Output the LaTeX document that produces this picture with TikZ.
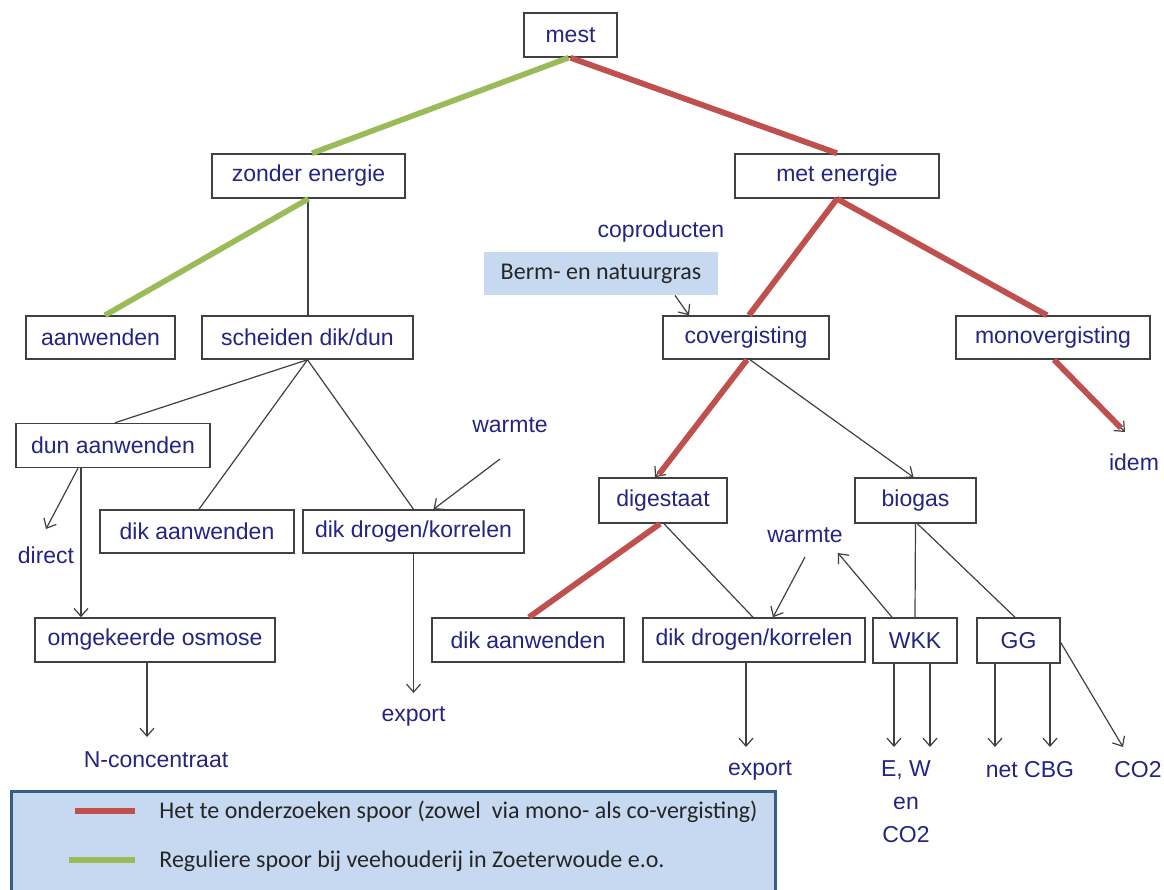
\documentclass[tikz,border=0pt]{standalone}
\usepackage{fontspec}
\setmainfont{Liberation Sans}
\newfontfamily\calfont{Carlito}
\usetikzlibrary{arrows.meta,calc}
\definecolor{navy}{RGB}{36,36,130}
\definecolor{boxline}{RGB}{64,64,64}
\definecolor{redpath}{RGB}{192,80,77}
\definecolor{greenpath}{RGB}{155,187,89}
\definecolor{legfill}{RGB}{198,217,240}
\definecolor{legline}{RGB}{56,93,138}
\definecolor{bermfill}{RGB}{198,217,241}
\definecolor{darktext}{RGB}{38,38,38}
\tikzset{
  box/.style={draw=boxline, line width=0.75pt, fill=white, minimum height=22pt, inner sep=0pt,
    text=navy, font=\fontsize{11.5}{13}\selectfont},
  lbl/.style={inner sep=0pt, text=navy, font=\fontsize{11.5}{13}\selectfont},
  thinline/.style={draw=boxline, line width=0.6pt},
  arr/.style={thinline, -{Straight Barb[length=4pt,width=7pt]}},
  redl/.style={draw=redpath, line width=2.9pt},
  greenl/.style={draw=greenpath, line width=2.8pt},
  legtext/.style={anchor=west, inner sep=0pt, text=darktext, font=\calfont\fontsize{12}{14}\selectfont},
}
\begin{document}
\begin{tikzpicture}[x=0.5pt,y=-0.5pt]
\useasboundingbox (0,0) rectangle (1164,890);
% boxes
\node[box, minimum width=46.5pt] (mest) at (570.5,35) {mest};
\node[box, minimum width=96.5pt] (zonder) at (308.5,176) {zonder energie};
\node[box, minimum width=102pt] (met) at (837,176) {met energie};
\node[box, minimum width=74.5pt, minimum height=21.5pt] (aanw) at (100.5,337.5) {aanwenden};
\node[box, minimum width=105.5pt, minimum height=21.5pt] (scheiden) at (307.5,337.5) {scheiden dik/dun};
\node[box, minimum width=83pt, minimum height=21.5pt] (cov) at (746,337.5) {covergisting};
\node[box, minimum width=97pt, minimum height=21.5pt] (mono) at (1053,337.5) {monovergisting};
\node[box, minimum width=97pt] (dun) at (113,445.5) {dun aanwenden};
\node[box, minimum width=97pt, minimum height=21.5pt] (dikL) at (197,531.5) {dik aanwenden};
\node[box, minimum width=110.5pt, minimum height=21.5pt] (drogenL) at (413.5,531.5) {dik drogen/korrelen};
\node[box, minimum width=120pt] (omg) at (155,640) {omgekeerde osmose};
\node[box, minimum width=64pt, minimum height=22.5pt] (dig) at (663,500.5) {digestaat};
\node[box, minimum width=60.5pt, minimum height=22.5pt] (biogas) at (915.5,500.5) {biogas};
\node[box, minimum width=96pt] (dikR) at (528,640) {dik aanwenden};
\node[box, minimum width=111pt] (drogenR) at (754,640) {dik drogen/korrelen};
\node[box, minimum width=42pt, minimum height=22.5pt] (wkk) at (915,640.5) {WKK};
\node[box, minimum width=41.5pt, minimum height=22.5pt] (gg) at (1018.5,640.5) {GG};
% berm box
\node[fill=bermfill, minimum width=117pt, minimum height=21.5pt, inner sep=0pt, text=darktext,
  font=\calfont\fontsize{12}{14}\selectfont] (berm) at (601,273.5) {Berm- en natuurgras};
% labels
\node[lbl] (copro) at (661,232) {coproducten};
\node[lbl] (warmteL) at (510,425) {warmte};
\node[lbl] (direct) at (46,555) {direct};
\node[lbl] (exportL) at (413.5,716) {export};
\node[lbl] (nconc) at (156,760) {N-concentraat};
\node[lbl] (idem) at (1134,462) {idem};
\node[lbl] (warmteR) at (805,535) {warmte};
\node[lbl] (exportR) at (760,770) {export};
\node[lbl, align=center, font=\fontsize{11.5}{16.5}\selectfont] (ew) at (906,802) {E, W\\en\\CO2};
\node[lbl] (netcbg) at (1030,770) {net CBG};
\node[lbl] (co2) at (1138,770) {CO2};
% thin connectors
\draw[thinline] ($(zonder.south)+(-0.5,0)$) -- ($(scheiden.north)+(0.5,0)$);
\draw[arr] ($(berm.south)+(74,0)$) -- ($(cov.north)+(-57,0)$);
\draw[thinline] (scheiden.south) -- ($(dun.north)+(2,0)$);
\draw[thinline] (scheiden.south) -- ($(dikL.north)+(2,0)$);
\draw[thinline] (scheiden.south) -- (drogenL.north);
\draw[arr] ($(warmteL)+(-10,34)$) -- ($(drogenL.north)+(20,0)$);
\draw[arr] ($(dun.south)+(-35,0)$) -- ($(direct)+(0,-26)$);
\draw[arr] ($(dun.south)+(-32,0)$) -- ($(omg.north)+(-74,0)$);
\draw[arr] (drogenL.south) -- ($(exportL)+(0,-23)$);
\draw[arr] ($(omg.south)+(-8,0)$) -- ($(nconc)+(-9,-23)$);
\draw[arr] ($(cov.south)+(1,0)$) -- ($(dig.north)+(-8,0)$);
\draw[arr] ($(cov.south)+(4,0)$) -- ($(biogas.north)+(-2,0)$);
\draw[arr] ($(mono.south)+(1,0)$) -- ($(idem)+(-9,-30)$);
\draw[thinline] ($(dig.south)+(1,0)$) -- ($(drogenR.north)+(-1,0)$);
\draw[arr] ($(warmteR)+(0,22)$) -- ($(drogenR.north)+(19,0)$);
\draw[arr] ($(wkk.north)+(-23,0)$) -- ($(warmteR)+(33,18)$);
\draw[thinline] (biogas.south) -- (wkk.north);
\draw[thinline] ($(biogas.south)+(2,0)$) -- ($(gg.north)+(-3.5,0)$);
\draw[arr] ($(drogenR.south)+(-8,0)$) -- ($(exportR)+(-14,-23)$);
\draw[arr] ($(wkk.south)+(-21,0)$) -- ($(ew)+(-12,-55)$);
\draw[arr] ($(wkk.south)+(15,0)$) -- ($(ew)+(24,-55)$);
\draw[arr] ($(gg.south)+(-23.5,0)$) -- ($(netcbg)+(-35,-23)$);
\draw[arr] ($(gg.south)+(31.5,0)$) -- ($(netcbg)+(20,-23)$);
\draw[arr] ($(gg.east)+(0,2)$) -- ($(co2)+(-15,-23)$);
% green path
\draw[greenl] ($(mest.south)+(-2,0)$) -- ($(zonder.north)+(3.5,0)$);
\draw[greenl] (zonder.south) -- ($(aanw.north)+(4.5,0)$);
% red path
\draw[redl] (mest.south) -- (met.north);
\draw[redl] (met.south) -- ($(cov.north)+(3,0)$);
\draw[redl] (met.south) -- ($(mono.north)+(-6,0)$);
\draw[redl] ($(cov.south)+(1,0)$) -- ($(dig.north)+(-4,-3)$);
\draw[redl] ($(mono.south)+(1,0)$) -- ($(idem)+(-13,-34)$);
\draw[redl] ($(dig.south)+(-3,0)$) -- ($(dikR.north)+(1,0)$);
% legend
\draw[fill=legfill, draw=legline, line width=1.5pt] (11,791) rectangle (775,905);
\draw[redl, line width=3pt] (75,811) -- (135,811);
\draw[greenl, line width=3pt] (69,860) -- (135,860);
\node[legtext] (leg1) at (159,812) {Het te onderzoeken spoor (zowel\ \ via mono- als co-vergisting)};
\node[legtext] (leg2) at (159,861) {Reguliere spoor bij veehouderij in Zoeterwoude e.o.};
\end{tikzpicture}
\end{document}
